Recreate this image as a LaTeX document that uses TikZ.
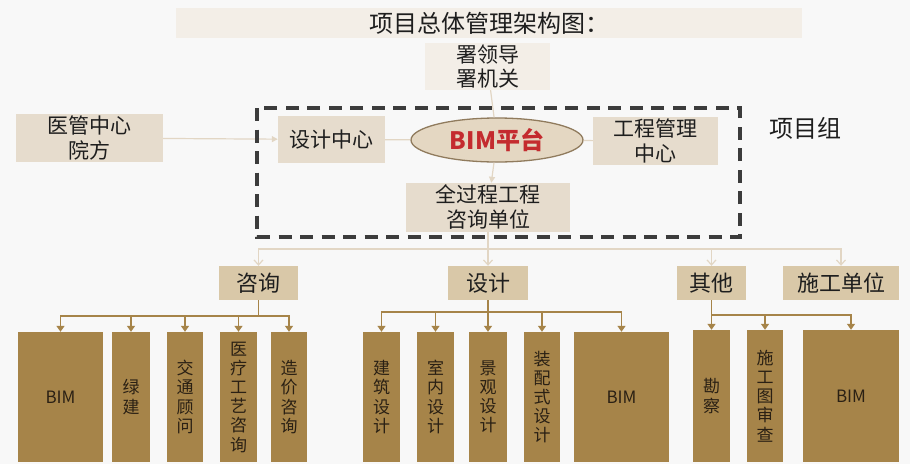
\documentclass[tikz,border=0pt]{standalone}
\usepackage{fontspec}
\setmainfont{Noto Sans CJK SC}
\usetikzlibrary{arrows.meta,shapes.geometric}
\definecolor{bgc}{HTML}{F8F8F8}
\definecolor{titlec}{HTML}{F3EEE7}
\definecolor{lvone}{HTML}{E6DCCD}
\definecolor{lvtwo}{HTML}{D9C8A8}
\definecolor{lvthree}{HTML}{A68449}
\definecolor{ellfill}{HTML}{E4D7C2}
\definecolor{elldraw}{HTML}{907B5D}
\definecolor{bimred}{HTML}{C42B2F}
\definecolor{lightline}{HTML}{E2D6C4}
\definecolor{brownline}{HTML}{A68449}
\definecolor{dashc}{HTML}{3C3C3C}
\definecolor{txt}{HTML}{1E1E1E}
\definecolor{txtdark}{HTML}{2A2014}
\tikzset{
  basebox/.style={rectangle, inner sep=0pt, text=txt, align=center},
  topbox/.style={basebox, fill=titlec},
  onebox/.style={basebox, fill=lvone, font=\fontsize{21}{25}\selectfont},
  twobox/.style={basebox, fill=lvtwo, minimum height=34pt, font=\fontsize{22}{26}\selectfont},
  threebox/.style={basebox, fill=lvthree, text=txtdark, font=\fontsize{17}{19.2}\selectfont},
  lightarrow/.style={draw=lightline, line width=1.2pt, -{Triangle[length=6pt,width=6pt]}},
  lightbarb/.style={draw=lightline, line width=1.2pt, -{Straight Barb[length=5pt,width=9pt]}},
  lightplain/.style={draw=lightline, line width=1.2pt},
  brownarrow/.style={draw=brownline, line width=1.4pt, -{Triangle[length=6pt,width=8pt]}},
  brownplain/.style={draw=brownline, line width=1.4pt},
}
\begin{document}
\begin{tikzpicture}[x=1pt,y=-1pt]
\useasboundingbox (0,0) rectangle (910,464);
\fill[bgc] (0,0) rectangle (910,464);

% title and top
\node[topbox, minimum width=626pt, minimum height=30pt, font=\fontsize{24}{28}\selectfont] (title) at (489,23) {项目总体管理架构图：};
\node[topbox, minimum width=125pt, minimum height=47pt, font=\fontsize{21}{24}\selectfont] (shu) at (487.5,66.5) {署领导\\署机关};

% level one
\node[onebox, minimum width=147pt, minimum height=48pt] (yg) at (89.5,138) {医管中心\\院方};
\node[onebox, minimum width=107pt, minimum height=47pt] (sjzx) at (331.5,139.5) {设计中心};
\node[ellipse, fill=ellfill, draw=elldraw, line width=1.3pt, minimum width=172pt, minimum height=44pt, inner sep=0pt, text=bimred, font=\fontsize{24}{28}\selectfont\bfseries] (bim) at (497,140) {BIM平台};
\node[onebox, minimum width=125pt, minimum height=48pt] (gc) at (655.5,141) {工程管理\\中心};
\node[onebox, minimum width=164pt, minimum height=49pt] (quan) at (488,207.5) {全过程工程\\咨询单位};
\node[text=txt, font=\fontsize{24}{28}\selectfont, inner sep=0pt] (xmz) at (805,128) {项目组};

% level two
\node[twobox, minimum width=79pt] (zixun) at (258.5,283) {咨询};
\node[twobox, minimum width=80pt] (sheji) at (488,283) {设计};
\node[twobox, minimum width=69pt] (qita) at (711.5,283) {其他};
\node[twobox, minimum width=116pt] (sg) at (841,283) {施工单位};

% level three: 咨询
\node[threebox, minimum width=85pt, minimum height=130pt] (za) at (60.5,397) {BIM};
\node[threebox, minimum width=38pt, minimum height=130pt] (zb) at (131,397) {绿\\建};
\node[threebox, minimum width=36pt, minimum height=130pt] (zc) at (185,397) {交\\通\\顾\\问};
\node[threebox, minimum width=37pt, minimum height=130pt] (zd) at (238.5,397) {医\\疗\\工\\艺\\咨\\询};
\node[threebox, minimum width=36pt, minimum height=130pt] (ze) at (289,397) {造\\价\\咨\\询};
% level three: 设计
\node[threebox, minimum width=37pt, minimum height=130pt] (sa) at (381.5,397) {建\\筑\\设\\计};
\node[threebox, minimum width=37pt, minimum height=130pt] (sb) at (435.5,397) {室\\内\\设\\计};
\node[threebox, minimum width=38pt, minimum height=130pt] (sc) at (488,397) {景\\观\\设\\计};
\node[threebox, minimum width=36pt, minimum height=130pt] (sd) at (542,397) {装\\配\\式\\设\\计};
\node[threebox, minimum width=95pt, minimum height=130pt] (se) at (621.5,397) {BIM};
% level three: 其他
\node[threebox, minimum width=37pt, minimum height=132pt] (qa) at (711.5,396) {勘\\察};
\node[threebox, minimum width=36pt, minimum height=132pt] (qb) at (765,396) {施\\工\\图\\审\\查};
\node[threebox, minimum width=96pt, minimum height=132pt] (qc) at (851,396) {BIM};

% top connectors
\draw[lightplain] (shu) -- (bim);
\draw[lightarrow] (bim) -- (quan);
\draw[lightarrow] (yg) -- (sjzx);
\draw[lightplain] (sjzx) -- (bim);
\draw[lightplain] (bim) -- (gc);

\coordinate (hub) at (488,249);
\draw[lightplain] (quan) -- (hub);
\draw[lightbarb] (hub) -| (zixun);
\draw[lightbarb] (hub) -- (sheji);
\draw[lightbarb] (hub) -| (qita);
\draw[lightbarb] (hub) -| (sg);

% level-three connectors
\coordinate (zj) at (258.5,316);
\draw[brownplain] (zixun) -- (zj);
\foreach \t in {za,zb,zc,zd,ze} \draw[brownarrow] (zj) -| (\t);
\coordinate (sj) at (488,312);
\draw[brownplain] (sheji) -- (sj);
\foreach \t in {sa,sb,sc,sd,se} \draw[brownarrow] (sj) -| (\t);
\coordinate (qj) at (711.5,315);
\draw[brownplain] (qita) -- (qj);
\foreach \t in {qa,qb,qc} \draw[brownarrow] (qj) -| (\t);

% dashed project group frame
\draw[dashc, line width=3.8pt, dash pattern=on 13pt off 8.5pt] (257,108) rectangle (740,237);
\end{tikzpicture}
\end{document}
